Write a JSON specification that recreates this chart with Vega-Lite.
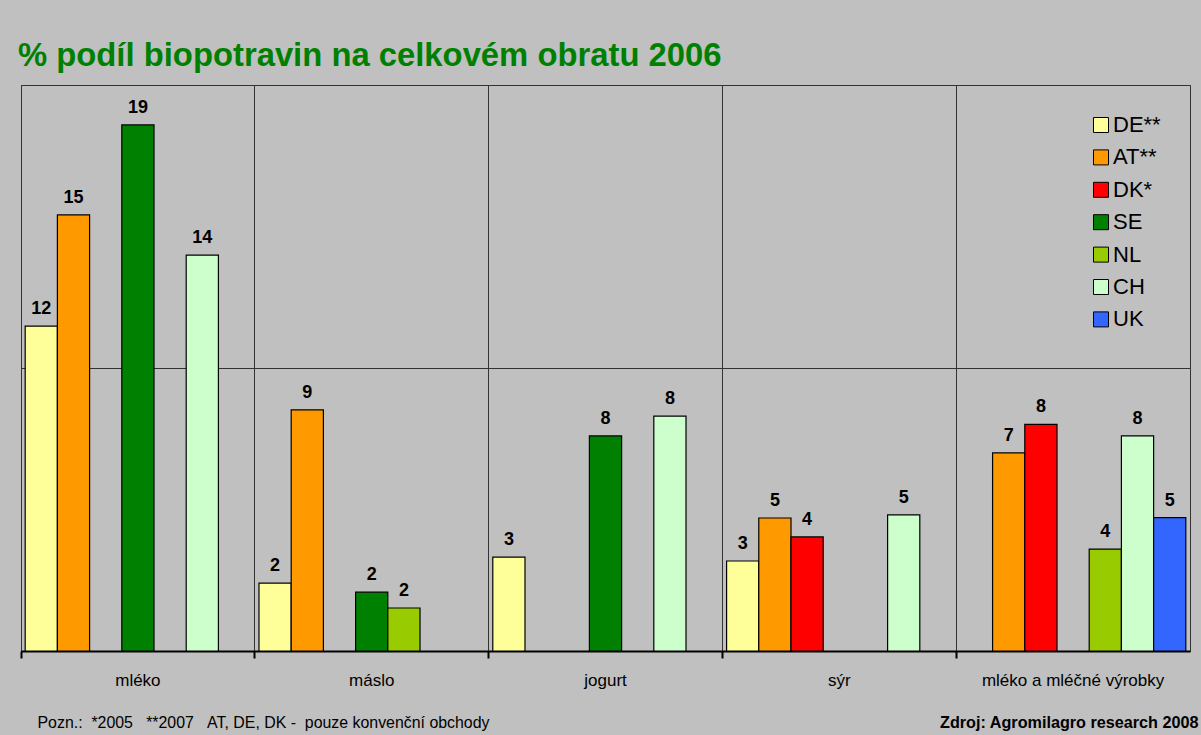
{
  "$schema": "https://vega.github.io/schema/vega-lite/v6.json",
  "width": 1169,
  "height": 566,
  "autosize": "none",
  "padding": {"left": 21, "top": 85, "right": 11, "bottom": 84},
  "background": "#C0C0C0",
  "title": {
    "text": "% podíl biopotravin na celkovém obratu 2006",
    "anchor": "start",
    "frame": "group",
    "font": "Liberation Sans",
    "fontSize": 32.8,
    "fontWeight": "bold",
    "color": "#008000",
    "baseline": "alphabetic",
    "offset": -14,
    "dx": -3
  },
  "data": {
    "values": [
      {"cat": "mléko", "country": "DE**", "value": 11.48, "label": "12"},
      {"cat": "mléko", "country": "AT**", "value": 15.41, "label": "15"},
      {"cat": "mléko", "country": "SE", "value": 18.59, "label": "19"},
      {"cat": "mléko", "country": "CH", "value": 13.99, "label": "14"},
      {"cat": "máslo", "country": "DE**", "value": 2.40, "label": "2"},
      {"cat": "máslo", "country": "AT**", "value": 8.52, "label": "9"},
      {"cat": "máslo", "country": "SE", "value": 2.08, "label": "2"},
      {"cat": "máslo", "country": "NL", "value": 1.52, "label": "2"},
      {"cat": "jogurt", "country": "DE**", "value": 3.32, "label": "3"},
      {"cat": "jogurt", "country": "SE", "value": 7.60, "label": "8"},
      {"cat": "jogurt", "country": "CH", "value": 8.30, "label": "8"},
      {"cat": "sýr", "country": "DE**", "value": 3.18, "label": "3"},
      {"cat": "sýr", "country": "AT**", "value": 4.70, "label": "5"},
      {"cat": "sýr", "country": "DK*", "value": 4.03, "label": "4"},
      {"cat": "sýr", "country": "CH", "value": 4.81, "label": "5"},
      {"cat": "mléko a mléčné výrobky", "country": "AT**", "value": 7.0, "label": "7"},
      {"cat": "mléko a mléčné výrobky", "country": "DK*", "value": 8.01, "label": "8"},
      {"cat": "mléko a mléčné výrobky", "country": "NL", "value": 3.6, "label": "4"},
      {"cat": "mléko a mléčné výrobky", "country": "CH", "value": 7.6, "label": "8"},
      {"cat": "mléko a mléčné výrobky", "country": "UK", "value": 4.71, "label": "5"}
    ]
  },
  "encoding": {
    "x": {
      "field": "cat",
      "type": "nominal",
      "sort": ["mléko", "máslo", "jogurt", "sýr", "mléko a mléčné výrobky"],
      "scale": {"paddingInner": 0, "paddingOuter": 0},
      "axis": {
        "bandPosition": 0,
        "grid": true,
        "gridColor": "#333333",
        "gridWidth": 1,
        "gridOpacity": 1,
        "domainColor": "#000000",
        "domainWidth": 2,
        "tickColor": "#000000",
        "tickWidth": 2,
        "tickSize": 7,
        "labelAngle": 0,
        "labelLimit": 0,
        "labelFont": "Liberation Sans",
        "labelFontSize": 17,
        "labelColor": "#000000",
        "labelPadding": 14,
        "title": "Pozn.:\u00a0\u00a0*2005\u00a0\u00a0\u00a0**2007\u00a0\u00a0\u00a0AT, DE, DK -\u00a0\u00a0pouze konvenční obchody",
        "titleFont": "Liberation Sans",
        "titleFontSize": 15.9,
        "titleFontWeight": "normal",
        "titleColor": "#000000",
        "titleAlign": "left",
        "titleAnchor": "start",
        "titleBaseline": "alphabetic",
        "titleX": 16,
        "titleY": 76
      }
    },
    "xOffset": {
      "field": "country",
      "type": "nominal",
      "scale": {"domain": ["DE**", "AT**", "DK*", "SE", "NL", "CH", "UK"], "paddingInner": 0, "paddingOuter": 0.13}
    },
    "y": {
      "field": "value",
      "type": "quantitative",
      "scale": {"domain": [0, 20], "nice": false},
      "axis": {
        "values": [0, 10, 20],
        "labels": false,
        "ticks": false,
        "domain": false,
        "grid": true,
        "gridColor": "#333333",
        "gridOpacity": 1,
        "title": "Zdroj: Agromilagro research 2008",
        "titleFont": "Liberation Sans",
        "titleFontSize": 16.2,
        "titleFontWeight": "bold",
        "titleColor": "#000000",
        "titleAngle": 0,
        "titleAlign": "right",
        "titleBaseline": "alphabetic",
        "titleX": 1177,
        "titleY": 642
      }
    }
  },
  "layer": [
    {
      "mark": {"type": "bar", "stroke": "#000000", "strokeWidth": 1.2},
      "encoding": {
        "color": {
          "field": "country",
          "type": "nominal",
          "title": null,
          "scale": {
            "domain": ["DE**", "AT**", "DK*", "SE", "NL", "CH", "UK"],
            "range": ["#FFFF99", "#FF9900", "#FF0000", "#008000", "#99CC00", "#CCFFCC", "#3366FF"]
          },
          "legend": {
            "orient": "none",
            "legendX": 1069,
            "legendY": 29,
            "padding": 0,
            "symbolType": "square",
            "symbolSize": 225,
            "symbolStrokeColor": "#000000",
            "symbolStrokeWidth": 1,
            "symbolOpacity": 1,
            "labelFont": "Liberation Sans",
            "labelFontSize": 22,
            "labelColor": "#000000",
            "labelOffset": 1,
            "rowPadding": 10.4
          }
        }
      }
    },
    {
      "mark": {
        "type": "text",
        "baseline": "alphabetic",
        "dy": -12,
        "font": "Liberation Sans",
        "fontSize": 18,
        "fontWeight": "bold",
        "color": "#000000"
      },
      "encoding": {"text": {"field": "label"}}
    }
  ],
  "config": {
    "view": {"stroke": "#333333", "strokeWidth": 1}
  }
}
